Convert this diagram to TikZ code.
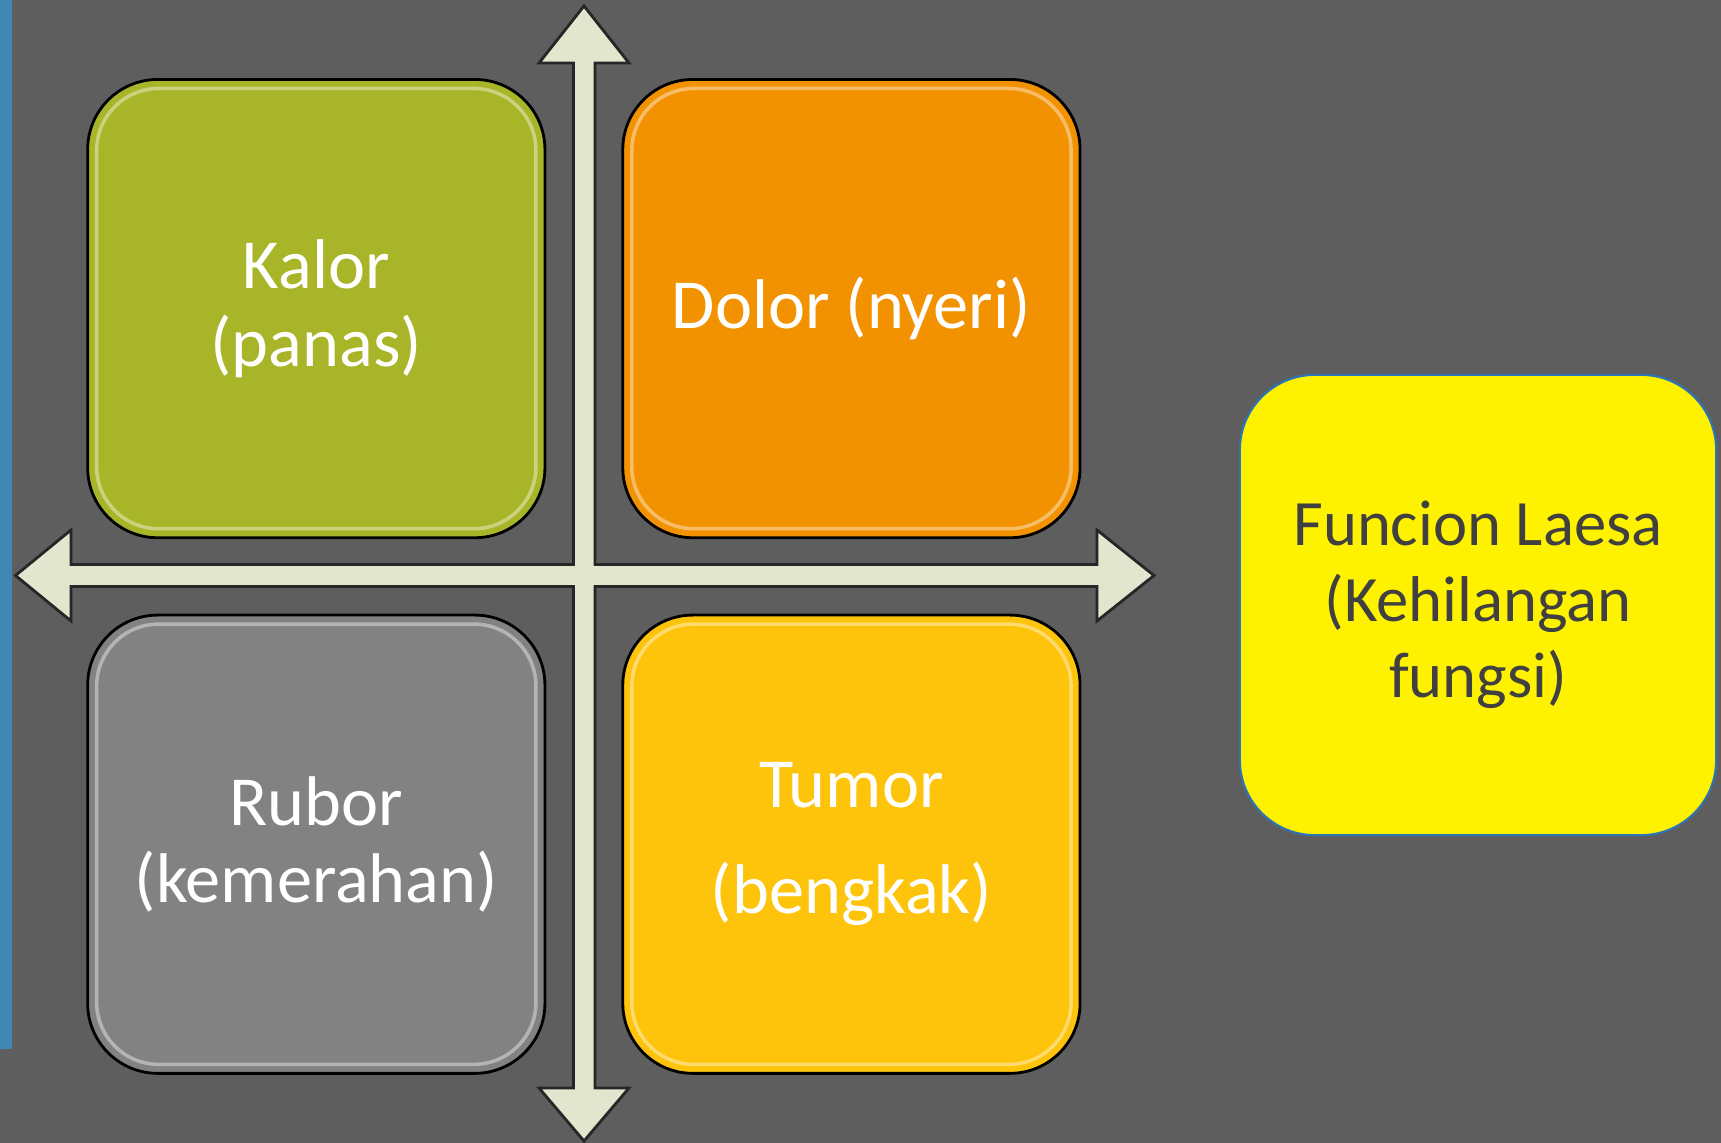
\documentclass[tikz,border=0pt]{standalone}
\usepackage{fontspec}
\setmainfont{Carlito}
\usetikzlibrary{positioning}
\definecolor{slide}{HTML}{5E5E5E}
\definecolor{stripe}{HTML}{3F87B5}
\definecolor{arrowfill}{HTML}{E2E6CF}
\definecolor{kalorgreen}{HTML}{A8B528}
\definecolor{dolororange}{HTML}{F39200}
\definecolor{rubergray}{HTML}{828282}
\definecolor{tumoramber}{HTML}{FEC30B}
\definecolor{laesatext}{HTML}{404040}
\definecolor{laesaline}{HTML}{2E75B6}
\tikzset{
  quad/.style={draw=black,line width=0.8pt,rounded corners=0.7cm,minimum width=4.57cm,minimum height=4.58cm,
    align=center,text=white,font=\fontsize{20}{22}\selectfont,
    path picture={\draw[white,opacity=0.4,line width=1pt,rounded corners=0.62cm]
      ([shift={(9,9)}]path picture bounding box.north west) rectangle ([shift={(-9,-9)}]path picture bounding box.south east);}},
  laesa/.style={draw=laesaline,line width=0.6pt,fill=yellow,rounded corners=0.75cm,minimum width=4.76cm,minimum height=4.6cm,
    align=center,text=laesatext,font=\fontsize{18.4}{21.6}\selectfont},
  cross/.style={draw=black!85,line width=0.8pt,fill=arrowfill,line join=miter}
}
\begin{document}
\begin{tikzpicture}[x=0.01cm,y=-0.01cm]
	\useasboundingbox (0,0) rectangle (1721,1143);
	\fill[slide] (0,0) rectangle (1721,1143);
	\fill[stripe] (0,0) rectangle (12,1049);
	\draw[cross] (584,6) -- (629,63) -- (595,63) -- (595,564.5) -- (1097,564.5) -- (1097,530) -- (1154,575.5) -- (1097,621) -- (1097,586.5) -- (595,586.5) -- (595,1088) -- (629,1088) -- (584,1141) -- (539,1088) -- (573.5,1088) -- (573.5,586.5) -- (71,586.5) -- (71,621) -- (15.5,575.5) -- (71,530) -- (71,564.5) -- (573.5,564.5) -- (573.5,63) -- (539,63) -- cycle;
	\node[quad,fill=kalorgreen] (kalor) at (316.3,308.6) {Kalor\\(panas)};
	\node[quad,fill=dolororange,right=0.75cm of kalor] (dolor) {Dolor (nyeri)};
	\node[quad,fill=rubergray,below=0.745cm of kalor] (rubor) {Rubor\\(kemerahan)};
	\node[quad,fill=tumoramber,below=0.745cm of dolor] (tumor) {Tumor\\[8pt](bengkak)};
	\node[laesa] (laesa) at (1478,605) {Funcion Laesa\\(Kehilangan\\fungsi)};
\end{tikzpicture}
\end{document}
